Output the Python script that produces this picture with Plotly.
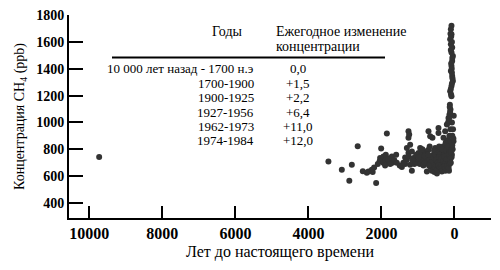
import plotly.graph_objects as go

# Scatter data: years before present, CH4 concentration (ppb)
years_bp = [
    9730, 3452, 3085, 2880, 2811, 2650, 2510, 2400, 2356, 2263, 2200, 2240, 2145,
    2008, 1852, 2036, 1990, 1945, 1900, 1852, 1808, 1762, 1715, 1950, 1880, 1820,
    1597, 1441, 1351, 1304, 1260, 1260, 1260, 1240, 1304, 1214, 1167, 1260, 1123,
    1077, 1214, 1167, 986, 940, 893, 849, 803, 756, 712, 712, 666, 603, 666, 666,
    619, 575, 529, 529, 482, 438, 438, 438, 438, 392, 345, 345, 301, 301, 255, 255,
    208, 208, 208, 164, 164, 118, 71, 27,
    1000, 950, 900, 850, 800, 780, 750, 700, 650, 600, 560, 520, 500, 470, 450, 420,
    400, 380, 350, 330, 320, 300, 280, 260, 240, 230, 220, 200, 190, 180, 170, 160,
    150, 140, 130, 120, 110, 100, 90, 80, 70, 60, 50, 40, 30, 20, 550, 620, 480, 250,
    150, 1100, 1150, 1050, 980, 880, 820, 720, 680, 1350, 1400, 1500, 1700, 1650,
    1580, 1760, 2050, 2100, 1900,
    500, 460, 420, 390, 360, 330, 300, 270, 240, 210, 180, 150, 120, 90, 60,
    560, 520, 480, 440, 400, 360, 320, 280, 240, 200, 160, 130, 100, 650, 700,
    173, 137, 110, 126, 82, 118, 82, 44, 63, 99, 82, 63, 44, 82, 63, 99, 118, 82, 99,
    82, 90, 70, 100, 60, 90, 75, 55, 70, 100, 95, 150, 120, 160, 130, 70, 110,
]
ch4_ppb = [
    742, 709, 647, 565, 685, 822, 637, 625, 635, 647, 665, 630, 548,
    805, 917, 735, 715, 747, 710, 735, 697, 722, 747, 700, 760, 725,
    760, 668, 739, 722, 772, 934, 885, 910, 810, 834, 784, 747, 735,
    710, 685, 640, 772, 810, 760, 722, 784, 635, 797, 934, 897, 885, 747, 672,
    710, 760, 810, 647, 735, 784, 660, 959, 922, 697, 760, 635, 822, 885, 735, 934,
    797, 984, 647, 685, 1034, 834, 760, 859,
    700, 690, 720, 680, 700, 740, 760, 720, 700, 740, 790, 760, 700, 680, 740, 820,
    760, 720, 700, 800, 740, 680, 760, 700, 850, 790, 720, 680, 760, 870, 820, 740,
    700, 900, 780, 720, 950, 860, 800, 740, 1000, 900, 800, 950, 880, 1050, 630, 640, 620, 640,
    640, 690, 720, 760, 740, 800, 750, 760, 820, 690, 700, 680, 700, 720,
    700, 690, 710, 690, 680,
    720, 700, 740, 710, 730, 690, 715, 745, 700, 725, 690, 760, 730, 780, 830,
    670, 660, 650, 680, 665, 655, 645, 670, 660, 675, 660, 690, 700, 700, 680,
    997, 1059, 1096, 1132, 1196, 1233, 1271, 1308, 1346, 1383, 1420, 1458, 1495, 1521, 1558, 1583, 1620, 1658, 1695,
    1720, 1640, 1600, 1540, 1480, 1440, 1400, 1330, 1290, 1250, 1210, 1030, 1080, 1010, 1115, 1370, 1660,
]

x_ticks = [10000, 8000, 6000, 4000, 2000, 0]
y_ticks = [400, 600, 800, 1000, 1200, 1400, 1600, 1800]

table_header_left = "Годы"
table_header_right = ["Ежегодное изменение", "концентрации"]
table_periods = ["10 000 лет назад - 1700 н.э", "1700-1900", "1900-1925",
                 "1927-1956", "1962-1973", "1974-1984"]
table_changes = ["0,0", "+1,5", "+2,2", "+6,4", "+11,0", "+12,0"]

FONT = "Times New Roman, Liberation Serif, DejaVu Serif, serif"

fig = go.Figure()
fig.add_trace(go.Scatter(
    x=years_bp, y=ch4_ppb, mode="markers",
    marker=dict(size=6, color="#333333", line=dict(width=0)),
    hoverinfo="skip", showlegend=False,
))

axis_common = dict(
    showgrid=False, zeroline=False, showline=True, linecolor="black", linewidth=2,
    ticks="inside", tickcolor="black", tickwidth=2, mirror=False,
)

fig.update_xaxes(
    range=[10556, -1000], tickvals=x_ticks, ticktext=[str(v) for v in x_ticks],
    ticklen=12,
    tickfont=dict(family=FONT, size=16, color="black", weight="bold"),
    title=dict(text="Лет до настоящего времени",
               font=dict(family=FONT, size=16, color="black"), standoff=5),
    **axis_common,
)
fig.update_yaxes(
    range=[288, 1800.5], tickvals=y_ticks, ticktext=[str(v) for v in y_ticks],
    ticklen=14,
    tickfont=dict(family=FONT, size=14, color="black", weight="bold"),
    title=dict(text="Концентрация CH<sub>4</sub> (ppb)",
               font=dict(family=FONT, size=14, color="black"), standoff=8),
    **axis_common,
)

annotations = []
def px_to_paper(px, py):
    return (px - 69) / 422, (218 - py) / 202.5

hx, hy = px_to_paper(227, 32)
annotations.append(dict(x=hx, y=hy, xref="paper", yref="paper", text=table_header_left,
                        showarrow=False, xanchor="center", yanchor="middle",
                        font=dict(family=FONT, size=14, color="black")))
for i, t in enumerate(table_header_right):
    ax, ay = px_to_paper(274, 32 + 15 * i)
    annotations.append(dict(x=ax, y=ay, xref="paper", yref="paper", text=t,
                            showarrow=False, xanchor="left", yanchor="middle",
                            font=dict(family=FONT, size=14, color="black")))
row_y = [69, 84, 98, 113, 127, 141]
for per, chg, ry in zip(table_periods, table_changes, row_y):
    ax, ay = px_to_paper(256, ry)
    annotations.append(dict(x=ax, y=ay, xref="paper", yref="paper", text=per,
                            showarrow=False, xanchor="right", yanchor="middle",
                            font=dict(family=FONT, size=13, color="black")))
    bx, by = px_to_paper(298, ry)
    annotations.append(dict(x=bx, y=by, xref="paper", yref="paper", text=chg,
                            showarrow=False, xanchor="center", yanchor="middle",
                            font=dict(family=FONT, size=13, color="black")))

lx0, ly = px_to_paper(112, 58)
lx1, _ = px_to_paper(385, 58)

fig.update_layout(
    width=500, height=270,
    margin=dict(l=69, r=9, t=15, b=52),
    paper_bgcolor="white", plot_bgcolor="white",
    annotations=annotations,
    shapes=[dict(type="line", xref="paper", yref="paper", x0=lx0, x1=lx1, y0=ly, y1=ly,
                 line=dict(color="black", width=2))],
)

fig.write_html("out.html")
